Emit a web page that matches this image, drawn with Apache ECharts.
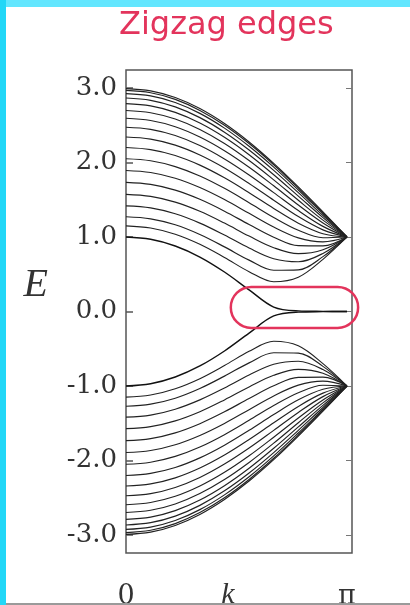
<!DOCTYPE html>
<html>
<head>
<meta charset="utf-8">
<script src="https://cdn.jsdelivr.net/npm/echarts@6/dist/echarts.min.js"></script>
<style>
  html, body { margin: 0; padding: 0; background: #fff; }
  #wrap { position: relative; width: 410px; height: 605px; overflow: hidden; background: #fff; }
  #chart { position: absolute; left: 0; top: 0; width: 410px; height: 605px; }
  #topStrip { position: absolute; left: 0; top: 0; width: 410px; height: 7px; background: #62e6fe; z-index: 5; }
  #leftStrip { position: absolute; left: 0; top: 0; width: 6px; height: 605px; background: #22d7f7; z-index: 6; }
  #bottomLine { position: absolute; left: 0; top: 603px; width: 410px; height: 2px; background: #9a9a9a; z-index: 4; }
</style>
</head>
<body>
<div id="wrap">
  <div id="chart"></div>
  <div id="topStrip"></div>
  <div id="leftStrip"></div>
  <div id="bottomLine"></div>
</div>
<script>
// Wave-vector sample points (0 ... π)
const kValues = [0, 0.35, 0.7, 1.05, 1.4, 1.75, 2.1, 2.45, 2.8, 3.1416];

// Upper (conduction) bulk bands, E read at each kValue
const conductionBands = [
  [2.991, 2.960, 2.871, 2.723, 2.522, 2.275, 1.988, 1.672, 1.337, 1.000],
  [2.966, 2.935, 2.846, 2.698, 2.499, 2.253, 1.969, 1.656, 1.327, 1.000],
  [2.923, 2.892, 2.804, 2.658, 2.460, 2.217, 1.937, 1.630, 1.311, 1.000],
  [2.864, 2.833, 2.745, 2.601, 2.406, 2.167, 1.893, 1.594, 1.288, 1.000],
  [2.788, 2.758, 2.671, 2.529, 2.337, 2.103, 1.835, 1.548, 1.260, 1.000],
  [2.697, 2.667, 2.582, 2.442, 2.254, 2.025, 1.766, 1.492, 1.226, 1.000],
  [2.592, 2.562, 2.479, 2.341, 2.157, 1.935, 1.686, 1.428, 1.187, 1.000],
  [2.472, 2.444, 2.361, 2.227, 2.047, 1.832, 1.595, 1.354, 1.142, 1.000],
  [2.341, 2.313, 2.232, 2.100, 1.926, 1.718, 1.493, 1.273, 1.095, 1.000],
  [2.200, 2.172, 2.093, 1.964, 1.794, 1.594, 1.382, 1.185, 1.044, 1.000],
  [2.049, 2.022, 1.944, 1.818, 1.652, 1.460, 1.262, 1.090, 0.990, 1.000],
  [1.892, 1.865, 1.788, 1.663, 1.502, 1.317, 1.133, 0.988, 0.935, 1.000],
  [1.732, 1.705, 1.628, 1.505, 1.346, 1.167, 0.997, 0.884, 0.881, 1.000],
  [1.572, 1.545, 1.468, 1.345, 1.186, 1.012, 0.856, 0.776, 0.828, 1.000],
  [1.417, 1.390, 1.311, 1.186, 1.026, 0.852, 0.708, 0.667, 0.779, 1.000],
  [1.271, 1.243, 1.163, 1.033, 0.867, 0.689, 0.553, 0.559, 0.736, 1.000],
  [1.149, 1.120, 1.036, 0.901, 0.725, 0.534, 0.399, 0.460, 0.700, 1.000]
];

// Lower (valence) bulk bands
const valenceBands = [
  [-2.991, -2.960, -2.871, -2.723, -2.522, -2.275, -1.988, -1.672, -1.337, -1.000],
  [-2.966, -2.935, -2.846, -2.698, -2.499, -2.253, -1.969, -1.656, -1.327, -1.000],
  [-2.923, -2.892, -2.804, -2.658, -2.460, -2.217, -1.937, -1.630, -1.311, -1.000],
  [-2.864, -2.833, -2.745, -2.601, -2.406, -2.167, -1.893, -1.594, -1.288, -1.000],
  [-2.788, -2.758, -2.671, -2.529, -2.337, -2.103, -1.835, -1.548, -1.260, -1.000],
  [-2.697, -2.667, -2.582, -2.442, -2.254, -2.025, -1.766, -1.492, -1.226, -1.000],
  [-2.592, -2.562, -2.479, -2.341, -2.157, -1.935, -1.686, -1.428, -1.187, -1.000],
  [-2.472, -2.444, -2.361, -2.227, -2.047, -1.832, -1.595, -1.354, -1.142, -1.000],
  [-2.341, -2.313, -2.232, -2.100, -1.926, -1.718, -1.493, -1.273, -1.095, -1.000],
  [-2.200, -2.172, -2.093, -1.964, -1.794, -1.594, -1.382, -1.185, -1.044, -1.000],
  [-2.049, -2.022, -1.944, -1.818, -1.652, -1.460, -1.262, -1.090, -0.990, -1.000],
  [-1.892, -1.865, -1.788, -1.663, -1.502, -1.317, -1.133, -0.988, -0.935, -1.000],
  [-1.732, -1.705, -1.628, -1.505, -1.346, -1.167, -0.997, -0.884, -0.881, -1.000],
  [-1.572, -1.545, -1.468, -1.345, -1.186, -1.012, -0.856, -0.776, -0.828, -1.000],
  [-1.417, -1.390, -1.311, -1.186, -1.026, -0.852, -0.708, -0.667, -0.779, -1.000],
  [-1.271, -1.243, -1.163, -1.033, -0.867, -0.689, -0.553, -0.559, -0.736, -1.000],
  [-1.149, -1.120, -1.036, -0.901, -0.725, -0.534, -0.399, -0.460, -0.700, -1.000]
];

// Edge-state bands (flat at E = 0 beyond k ≈ 2π/3)
const conductionEdge = [1.000, 0.969, 0.879, 0.731, 0.530, 0.290, 0.060, 0.008, 0.002, 0.000];
const valenceEdge = [-1.000, -0.969, -0.879, -0.731, -0.530, -0.290, -0.060, -0.008, -0.002, 0.000];

// Axis ticks / labels
const energyTicks = [-3, -2, -1, 0, 1, 2, 3];
const kTicks = [0, Math.PI];
const kTickLabels = ['0', 'π'];

// Highlighted region (data coordinates)
const highlightK = [1.49, 3.30];
const highlightE = [-0.22, 0.33];

const LINE_COLOR = '#222';

function toPoints(values) {
  return kValues.map((k, i) => [k, values[i]]);
}

const series = [];
conductionBands.concat(valenceBands).forEach((band) => {
  series.push({
    type: 'line', data: toPoints(band), showSymbol: false, symbol: 'none',
    smooth: 0.35, silent: true,
    lineStyle: { color: LINE_COLOR, width: 1.15 }
  });
});
[conductionEdge, valenceEdge].forEach((band) => {
  series.push({
    type: 'line', data: toPoints(band), showSymbol: false, symbol: 'none',
    smooth: 0.35, silent: true,
    lineStyle: { color: '#111', width: 1.4 }
  });
});

const chart = echarts.init(document.getElementById('chart'), null, { renderer: 'canvas' });
const option = {
  animation: false,
  backgroundColor: '#ffffff',
  title: {
    text: 'Zigzag edges',
    left: 119, top: 10, padding: 0,
    textStyle: { fontFamily: 'DejaVu Sans', fontSize: 32, fontWeight: 'normal', color: '#e3345c' }
  },
  grid: {
    left: 126, right: 58, top: 70, bottom: 52,
    outerBoundsMode: 'none', containLabel: false,
    show: true, borderColor: '#555', borderWidth: 1.5, backgroundColor: '#fff'
  },
  xAxis: {
    type: 'value', min: 0, max: 3.213,
    name: 'k', nameLocation: 'middle', nameGap: 27, nameMoveOverlap: false,
    nameTextStyle: { fontFamily: 'Liberation Serif', fontStyle: 'italic', fontSize: 30, color: '#333', padding: [0, 22, 0, 0], verticalAlign: 'top' },
    axisLine: { show: false },
    axisTick: { show: false },
    splitLine: { show: false },
    axisLabel: {
      customValues: kTicks,
      formatter: (v) => kTickLabels[kTicks.findIndex((t) => Math.abs(t - v) < 1e-6)] || '',
      fontFamily: 'DejaVu Serif', fontSize: 27, color: '#333', margin: 30
    }
  },
  yAxis: [{
    type: 'value', min: -3.24, max: 3.24, position: 'left',
    name: 'E', nameLocation: 'middle', nameRotate: 0, nameGap: 78, nameMoveOverlap: false,
    nameTextStyle: { fontFamily: 'Liberation Serif', fontStyle: 'italic', fontSize: 40, color: '#333', verticalAlign: 'bottom', padding: [0, 0, 6, 0] },
    axisLine: { show: false },
    axisTick: { show: true, inside: true, length: 7, customValues: energyTicks, lineStyle: { color: '#555', width: 1.5 } },
    splitLine: { show: false },
    axisLabel: {
      customValues: energyTicks,
      formatter: (v) => v.toFixed(1),
      fontFamily: 'DejaVu Serif', fontSize: 26, color: '#333', margin: 9
    }
  }, {
    type: 'value', min: -3.24, max: 3.24, position: 'right',
    axisLine: { show: false },
    axisTick: { show: true, inside: true, length: 6, customValues: energyTicks, lineStyle: { color: '#777', width: 1 } },
    splitLine: { show: false },
    axisLabel: { show: false }
  }],
  series: series
};
chart.setOption(option);

const p0 = chart.convertToPixel({ gridIndex: 0 }, [highlightK[0], highlightE[1]]);
const p1 = chart.convertToPixel({ gridIndex: 0 }, [highlightK[1], highlightE[0]]);
const h = p1[1] - p0[1];
chart.setOption({
  graphic: [{
    type: 'rect', z: 100, silent: true,
    shape: { x: p0[0], y: p0[1], width: p1[0] - p0[0], height: h, r: h / 2 },
    style: { fill: 'none', stroke: '#e3345c', lineWidth: 2.5 }
  }]
});
</script>
</body>
</html>
